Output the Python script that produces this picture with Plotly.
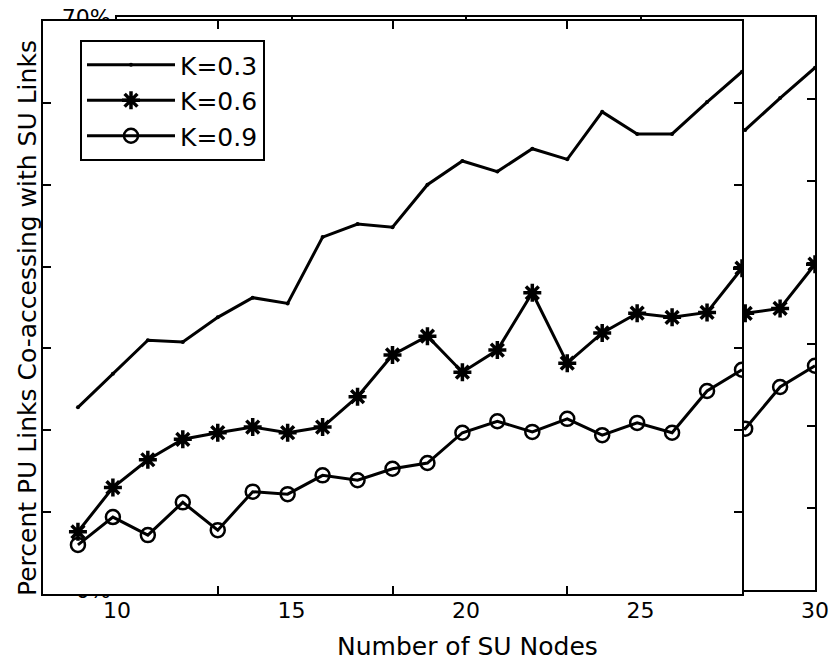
import plotly.graph_objects as go

# ---- data -------------------------------------------------------------
su_nodes = list(range(11, 31))
k03 = [22.8, 26.9, 31.0, 30.8, 33.8, 36.2, 35.5, 43.6, 45.2, 44.8,
       50.0, 52.9, 51.6, 54.4, 53.1, 58.9, 56.2, 56.2, 60.1, 63.8]
k06 = [7.6, 13.0, 16.4, 18.9, 19.7, 20.4, 19.7, 20.4, 24.1, 29.2,
       31.5, 27.1, 29.8, 36.8, 28.2, 31.9, 34.3, 33.8, 34.4, 39.8]
k09 = [6.0, 9.4, 7.2, 11.2, 7.8, 12.5, 12.2, 14.5, 13.9, 15.3,
       16.0, 19.7, 21.1, 19.8, 21.4, 19.4, 20.9, 19.7, 24.8, 27.4]
series_names = ["K=0.3", "K=0.6", "K=0.9"]
x_ticks = [10, 15, 20, 25, 30]
y_ticks = [0, 10, 20, 30, 40, 50, 60, 70]
y_tick_text = [f"{v}%" for v in y_ticks]

W, H = 835, 663
FONT = "DejaVu Sans, Liberation Sans, Arial, sans-serif"

styles = [
    dict(mode="lines+markers", marker=dict(symbol="circle", size=4, color="black")),
    dict(mode="lines+markers", marker=dict(symbol="asterisk-open", size=15,
                                           line=dict(width=3.5, color="black"))),
    dict(mode="lines+markers", marker=dict(symbol="circle-open", size=14, color="black",
                                           line=dict(width=2.5, color="black"))),
]
values = [k03, k06, k09]

fig = go.Figure()
# background (offset) copy of the chart
for name, vals, st in zip(series_names, values, styles):
    fig.add_trace(go.Scatter(x=su_nodes, y=vals, name=name, showlegend=False,
                             line=dict(color="black", width=3),
                             xaxis="x", yaxis="y", **st))
# foreground panel
for name, vals, st in zip(series_names, values, styles):
    fig.add_trace(go.Scatter(x=su_nodes, y=vals, name=name, showlegend=True,
                             line=dict(color="black", width=3),
                             xaxis="x2", yaxis="y2", **st))

axis_common = dict(showline=True, linecolor="black", linewidth=2, mirror="ticks",
                   ticks="inside", ticklen=8, tickwidth=1.5, tickcolor="black",
                   showgrid=False, zeroline=False, automargin=False)

def px_x(p):
    return p / W

def px_y(p):
    return 1 - p / H

fig.update_layout(
    width=W, height=H, autosize=False,
    margin=dict(l=0, r=0, t=0, b=0, pad=0, autoexpand=False),
    paper_bgcolor="white", plot_bgcolor="white",
    font=dict(family=FONT, color="black", size=22),
    xaxis=dict(domain=[px_x(117), px_x(815)], range=[10, 30], tickvals=x_ticks,
               anchor="y", ticklabelstandoff=0,
               tickfont=dict(size=22), **axis_common),
    yaxis=dict(domain=[px_y(590), px_y(17)], range=[0, 70], tickvals=y_ticks,
               ticktext=y_tick_text, anchor="x", tickfont=dict(size=22),
               **axis_common),
    xaxis2=dict(domain=[px_x(43), px_x(742)], range=[10, 30], tickvals=x_ticks,
                showticklabels=False, anchor="y2", **axis_common),
    yaxis2=dict(domain=[px_y(594), px_y(21)], range=[0, 70], tickvals=y_ticks,
                showticklabels=False, anchor="x2", **axis_common),
    legend=dict(x=px_x(80), y=px_y(40), xanchor="left", yanchor="top",
                bgcolor="white", bordercolor="black", borderwidth=2,
                font=dict(size=25, family=FONT), itemwidth=88,
                tracegroupgap=0),
    showlegend=True,
    annotations=[
        dict(text="Number of SU Nodes", xref="paper", yref="paper",
             x=px_x(467), y=px_y(646), xanchor="center", yanchor="middle",
             showarrow=False, font=dict(size=25, family=FONT)),
        dict(text="Percent PU Links Co-accessing with SU Links", xref="paper",
             yref="paper", x=px_x(27), y=px_y(318), xanchor="center",
             yanchor="middle", textangle=-90, showarrow=False,
             font=dict(size=25, family=FONT)),
    ],
)

fig.write_html("out.html", config={"displayModeBar": False},
               post_script="document.body.style.margin='0px';")
